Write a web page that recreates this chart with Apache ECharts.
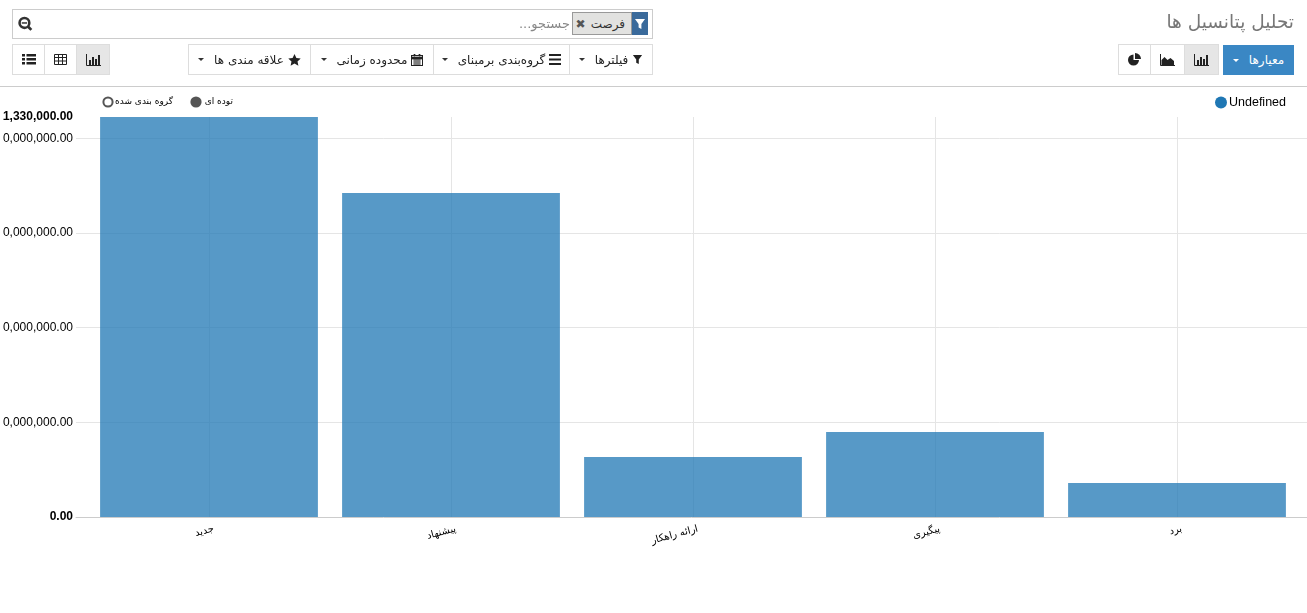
<!DOCTYPE html>
<html lang="fa"><head><meta charset="utf-8">
<script src="https://cdn.jsdelivr.net/npm/echarts@6/dist/echarts.min.js"></script>
<style>
html,body{margin:0;padding:0;background:#fff;overflow:hidden}
body{width:1307px;height:613px;position:relative;font-family:"DejaVu Sans","Noto Sans",sans-serif;color:#222}
#chart{position:absolute;left:0;top:0;width:1307px;height:613px}
.a{position:absolute;box-sizing:border-box}
.btn{position:absolute;box-sizing:border-box;top:44px;height:31px;border:1px solid #ddd;background:#fff;display:flex;align-items:center;justify-content:center;font-size:12px;color:#222;direction:rtl;white-space:nowrap;gap:4px}
.on{background:#e6e6e6}
.caret{display:inline-block;width:0;height:0;border-left:3px solid transparent;border-right:3px solid transparent;border-top:3px solid #333;margin-right:6px}
svg{display:block}
</style></head><body>
<div id="chart"></div>

<div class="a" style="right:13px;top:11px;font-size:18.500px;color:#777;direction:rtl;white-space:nowrap">تحلیل پتانسیل ها</div>

<div class="a" style="left:12px;top:9px;width:641px;height:30px;border:1px solid #ccc"></div>
<div class="a" style="left:17px;top:16px"><svg width="17" height="15" viewBox="0 0 16 14"><circle cx="7" cy="6.500" r="4.600" fill="none" stroke="#333" stroke-width="2.400"/><path d="M10.500 10l3 3" stroke="#333" stroke-width="2.600"/><path d="M4.500 6.500h5" stroke="#333" stroke-width="1.400"/></svg></div>
<div class="a" style="left:572px;top:12px;width:60px;height:23px;background:#e2e2e0;border:1px solid #999;font-size:12px;direction:rtl;display:flex;align-items:center;padding-right:6px;gap:5px;color:#333">فرصت<span style="font-family:'DejaVu Sans';font-weight:bold;color:#555;font-size:12px">✖</span></div>
<div class="a" style="left:632px;top:12px;width:16px;height:23px;background:#3a6a9b;display:flex;align-items:center;justify-content:center"><svg width="12" height="12" viewBox="0 0 12 12"><path d="M1 1h10L7.400 6v5L4.600 9.500V6z" fill="#fff"/></svg></div>
<div class="a" style="left:500px;top:16px;width:70px;font-size:13px;color:#888;direction:rtl;text-align:right;white-space:nowrap">جستجو...</div>

<div class="btn" style="left:569px;width:84px"><svg width="11" height="11" viewBox="0 0 12 12"><path d="M1 1h10L7.400 6v5L4.600 9.500V6z" fill="#222"/></svg><span>فیلترها</span><i class="caret"></i></div>
<div class="btn" style="left:433px;width:137px"><svg width="12" height="11" viewBox="0 0 12 11"><path d="M0 1h12M0 5.500h12M0 10h12" stroke="#222" stroke-width="2"/></svg><span>گروه‌بندی برمبنای</span><i class="caret"></i></div>
<div class="btn" style="left:310px;width:124px"><svg width="12" height="12" viewBox="0 0 12 12"><rect x=".5" y="1.500" width="11" height="10" fill="none" stroke="#222"/><path d="M0 3h12v2H0zM3 0h1v2H3zM8 0h1v2H8zM2 6h8M2 8h8M2 10h8M4 5v6M6 5v6M8 5v6" fill="#222" stroke="#222" stroke-width=".7"/></svg><span>محدوده زمانی</span><i class="caret"></i></div>
<div class="btn" style="left:188px;width:123px"><svg width="13" height="12" viewBox="0 0 13 12"><path d="M6.500 0l1.900 4 4.300.5-3.200 2.900.9 4.300-3.900-2.200-3.900 2.200.9-4.300L.3 4.500 4.600 4z" fill="#222"/></svg><span>علاقه مندی ها</span><i class="caret"></i></div>

<div class="btn on" style="left:76px;width:34px" ><svg width="15" height="12" viewBox="0 0 15 12"><path d="M.5 0v11.500H15" fill="none" stroke="#222"/><path d="M3 6h2v5H3zM6 3h2v8H6zM9 5h2v6H9zM12 1h2v10h-2z" fill="#222"/></svg></div>
<div class="btn" style="left:44px;width:33px"><svg width="13" height="11" viewBox="0 0 13 11"><path d="M.5.5h12v10H.5zM.5 3.500h12M.5 7h12M4.500 .5v10M8.500 .5v10" fill="none" stroke="#222"/></svg></div>
<div class="btn" style="left:12px;width:33px"><svg width="14" height="11" viewBox="0 0 14 11"><path d="M0 0h3v2.500H0zM0 4h3v2.500H0zM0 8h3v2.500H0zM4.500 0H14v2.500H4.500zM4.500 4H14v2.500H4.500zM4.500 8H14v2.500H4.500z" fill="#222"/></svg></div>

<div class="btn" style="left:1223px;top:45px;width:71px;height:30px;background:#3a87c4;border:none;color:#fff"><span>معیارها</span><i class="caret" style="border-top-color:#fff"></i></div>
<div class="btn on" style="left:1184px;width:35px"><svg width="15" height="12" viewBox="0 0 15 12"><path d="M.5 0v11.500H15" fill="none" stroke="#222"/><path d="M3 6h2v5H3zM6 3h2v8H6zM9 5h2v6H9zM12 1h2v10h-2z" fill="#222"/></svg></div>
<div class="btn" style="left:1150px;width:35px"><svg width="15" height="12" viewBox="0 0 15 12"><path d="M.5 0v11.500H15" fill="none" stroke="#222"/><path d="M1.500 11V6l3-3 3 3 3-2 3.500 3v4z" fill="#222"/></svg></div>
<div class="btn" style="left:1118px;width:33px"><svg width="13" height="13" viewBox="0 0 13 13"><path d="M5.500 1.500a5.500 5.500 0 1 0 5.500 5.500H5.500z" fill="#222"/><path d="M7 0a6 6 0 0 1 6 6H7z" fill="#222"/></svg></div>

<div class="a" style="left:0;top:86px;width:1307px;height:1px;background:#ccc"></div>
<div class="a" style="left:0;top:100px;width:3px;height:430px;background:#fff"></div>

<script>
const categories = ['جدید', 'پیشنهاد', 'ارائه راهکار', 'پیگیری', 'برد'];
const seriesValues = [211330000, 171200000, 31700000, 44900000, 18000000];
const seriesName = 'Undefined';
const yMax = 211330000;
const yInterval = 50000000;
const modeLabels = ['گروه بندی شده', 'توده ای'];

const fmt = v => Number(v).toLocaleString('en-US', {minimumFractionDigits: 2, maximumFractionDigits: 2});
const chart = echarts.init(document.getElementById('chart'), null, {renderer: 'canvas'});
const gridTop = 117, gridHeight = 400;
const modeFont = '9px "DejaVu Sans"';
chart.setOption({
  animation: false,
  legend: {
    left: 1215, top: 96, padding: 0, itemWidth: 12, itemHeight: 12, selectedMode: false,
    icon: 'circle', data: [seriesName],
    itemStyle: {color: '#1f77b4', opacity: 1},
    textStyle: {fontFamily: 'Liberation Sans', fontSize: 12.5, color: '#000', padding: [2, 0, 0, -3]}
  },
  grid: [
    {left: 88, width: 1210, top: gridTop, height: gridHeight, outerBoundsMode: 'none'},
    {left: 76, right: 0, top: gridTop, height: gridHeight, outerBoundsMode: 'none'}
  ],
  xAxis: [
    {type: 'category', gridIndex: 0, data: categories,
     axisLine: {show: false},
     axisTick: {show: true, alignWithLabel: true, inside: true, length: gridHeight, lineStyle: {color: '#e5e5e5'}},
     axisLabel: {interval: 0, rotate: 15, margin: 13, padding: [0, -5, 0, 0], fontFamily: 'DejaVu Sans', fontSize: 10, color: '#000'}},
    {type: 'value', gridIndex: 1, min: 0, max: 1, axisLine: {show: true, onZero: false, lineStyle: {color: '#ccc'}},
     axisTick: {show: false}, axisLabel: {show: false}, splitLine: {show: false}}
  ],
  yAxis: [
    {type: 'value', gridIndex: 0, min: 0, max: yMax, interval: yInterval,
     axisLine: {show: false}, axisTick: {show: false}, splitLine: {show: false},
     axisLabel: {margin: 15, fontFamily: 'Liberation Sans', fontSize: 12, color: '#000',
       formatter: v => (v === 0 || v === yMax) ? '{b|' + fmt(v) + '}' : fmt(v),
       rich: {b: {fontFamily: 'Liberation Sans', fontSize: 12, fontWeight: 'bold', color: '#000'}}}},
    {type: 'value', gridIndex: 1, min: 0, max: yMax, interval: yInterval,
     axisLine: {show: false}, axisTick: {show: false}, axisLabel: {show: false},
     splitLine: {show: true, showMinLine: false, showMaxLine: false, lineStyle: {color: '#e5e5e5'}}}
  ],
  series: [{
    name: seriesName, type: 'bar', xAxisIndex: 0, yAxisIndex: 0, data: seriesValues,
    barWidth: '90%', itemStyle: {color: '#1f77b4', opacity: 0.75}
  }],
  graphic: [
    {type: 'circle', shape: {cx: 108, cy: 102, r: 4.600}, style: {fill: '#fff', stroke: '#555', lineWidth: 2}},
    {type: 'text', style: {x: 173, y: 102, text: modeLabels[0], font: modeFont, fill: '#000', align: 'right', verticalAlign: 'middle'}},
    {type: 'circle', shape: {cx: 196, cy: 102, r: 5.600}, style: {fill: '#555'}},
    {type: 'text', style: {x: 233, y: 102, text: modeLabels[1], font: modeFont, fill: '#000', align: 'right', verticalAlign: 'middle'}}
  ]
});
</script>
</body></html>
